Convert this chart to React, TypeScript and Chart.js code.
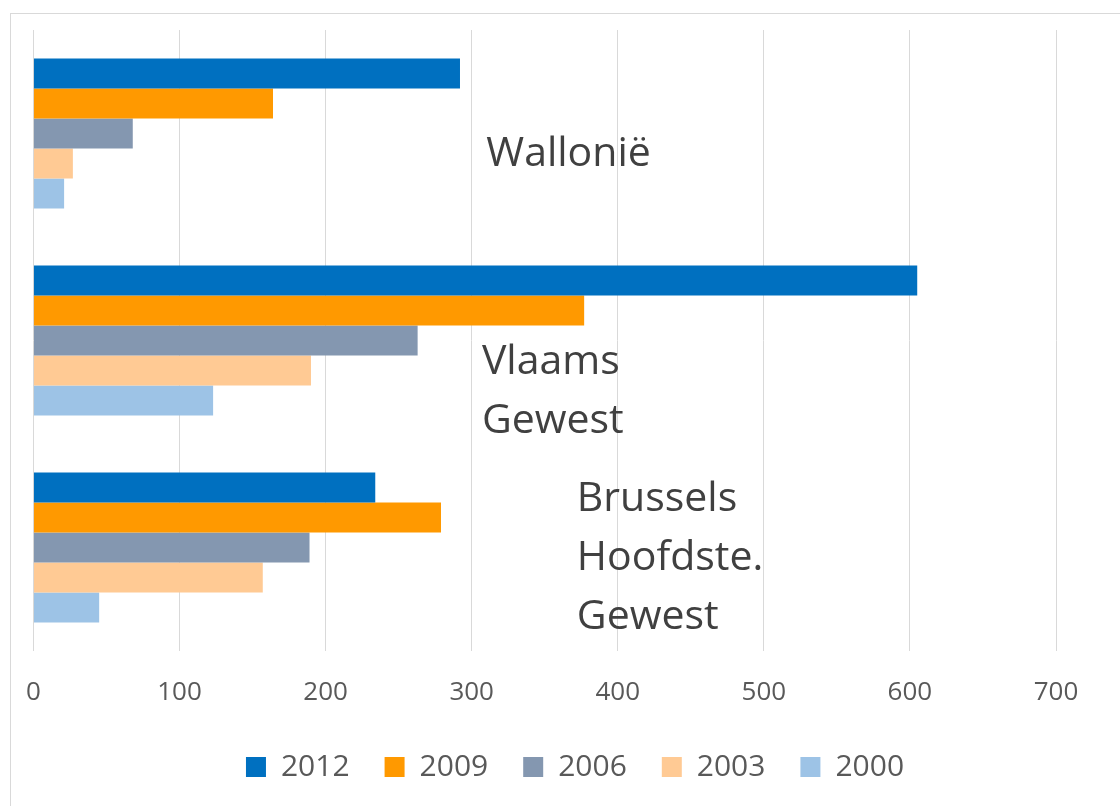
import React, { useEffect, useRef } from "react";
import { Chart, registerables } from "chart.js";

Chart.register(...registerables);

const categories = ["Wallonië", "Vlaams Gewest", "Brussels Hoofdste. Gewest"];
const categoryLines = [["Wallonië"], ["Vlaams", "Gewest"], ["Brussels", "Hoofdste.", "Gewest"]];
const seriesNames = ["2012", "2009", "2006", "2003", "2000"];
const v2012 = [292, 605, 234];
const v2009 = [164, 377, 279];
const v2006 = [68, 263, 189];
const v2003 = [27, 190, 157];
const v2000 = [21, 123, 45];
const xTicks = [0, 100, 200, 300, 400, 500, 600, 700];
const colors = ["#0070C0", "#FF9900", "#8497B0", "#FFCA94", "#9DC3E6"];

// label placement (value on x axis where text starts, baseline offsets from category centre)
const labelStartValue = [310, 307, 372];
const labelBaselineOffsets = [[32], [33, 92], [-37, 22, 81]];

const FONT = "'Open Sans', 'Noto Sans', sans-serif";

const categoryLabelPlugin = {
  id: "categoryLabels",
  afterDatasetsDraw(chart: any) {
    const { ctx, scales } = chart;
    const xs = scales.x;
    const ys = scales.y;
    ctx.save();
    ctx.font = `41px ${FONT}`;
    ctx.fillStyle = "#404040";
    ctx.textAlign = "left";
    ctx.textBaseline = "alphabetic";
    categoryLines.forEach((lines, i) => {
      const cy = ys.getPixelForValue(i);
      const x = xs.getPixelForValue(labelStartValue[i]);
      lines.forEach((line, j) => {
        ctx.fillText(line, x, cy + labelBaselineOffsets[i][j]);
      });
    });
    ctx.restore();
  },
};

export default function App() {
  const ref = useRef<HTMLCanvasElement>(null);
  useEffect(() => {
    if (!ref.current) return;
    const series = [v2012, v2009, v2006, v2003, v2000];
    const chart = new Chart(ref.current, {
      type: "bar",
      data: {
        labels: categories,
        datasets: series.map((d, i) => ({
          label: seriesNames[i],
          data: d,
          backgroundColor: colors[i],
          borderWidth: 0,
          categoryPercentage: 0.725,
          barPercentage: 1,
        })),
      },
      options: {
        indexAxis: "y",
        responsive: false,
        animation: false,
        layout: { padding: { left: 31, right: 1, top: 30, bottom: 14 } },
        scales: {
          x: {
            type: "linear",
            min: 0,
            max: 700,
            afterBuildTicks: (s: any) => {
              s.ticks = xTicks.map((v) => ({ value: v }));
            },
            grid: { color: "#d9d9d9", lineWidth: 1, drawTicks: false },
            border: { display: false },
            ticks: {
              padding: 26,
              color: "#595959",
              font: { family: FONT, size: 26 },
            },
            afterFit: (s: any) => {
              s.height = 66;
            },
          },
          y: {
            type: "category",
            display: false,
          },
          yRight: {
            type: "linear",
            position: "right",
            display: true,
            grid: { display: false },
            border: { display: false },
            ticks: { display: false },
            afterFit: (s: any) => {
              s.width = 63;
            },
          },
        },
        plugins: {
          legend: {
            position: "bottom",
            labels: {
              boxWidth: 20,
              boxHeight: 20,
              padding: 35,
              color: "#595959",
              font: { family: FONT, size: 30 },
            },
          },
          tooltip: { enabled: false },
        },
      },
      plugins: [categoryLabelPlugin],
    });
    return () => chart.destroy();
  }, []);

  return (
    <div
      style={{
        position: "fixed",
        left: 0,
        top: 0,
        width: 1120,
        height: 806,
        overflow: "hidden",
        background: "#ffffff",
      }}
    >
      <div
        style={{
          position: "absolute",
          left: 10,
          top: 13,
          width: 1200,
          height: 900,
          border: "1px solid #d9d9d9",
          boxSizing: "border-box",
        }}
      />
      <canvas
        ref={ref}
        width={1120}
        height={806}
        style={{ position: "absolute", left: 0, top: 0, width: 1120, height: 806 }}
      />
    </div>
  );
}
